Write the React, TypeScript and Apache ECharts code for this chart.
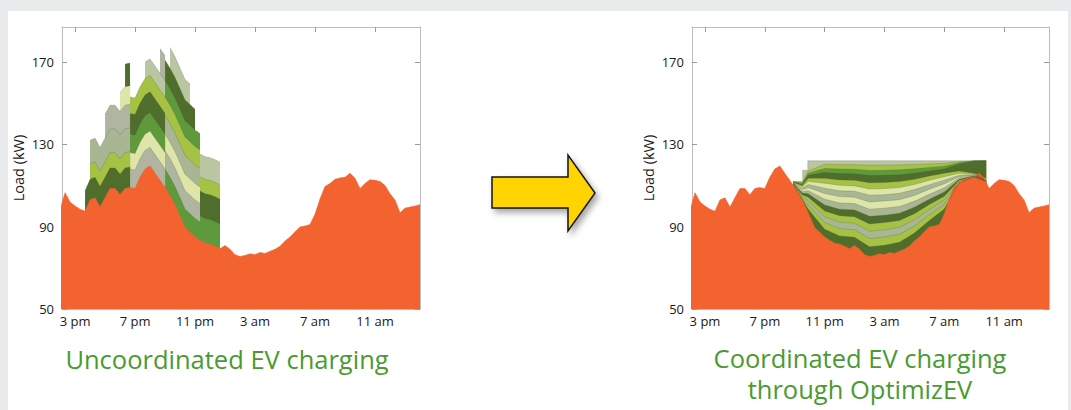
import React, { useEffect, useRef } from "react";
import * as echarts from "echarts";

// ---- time grid: 20-minute steps starting at 2 pm (hour 14) ----
const START_HOUR = 14;
const STEPS_PER_HOUR = 3;

// Base (non-EV) load, kW, every 20 min from 2 pm to 2 pm next day
const baseLoad = [
  98, 106.5, 102, 100, 98.5, 97.5, 103, 104, 99.5, 104,
  108.5, 108.5, 105.5, 108.5, 109, 108.5, 114, 118, 119.5, 116,
  112.5, 109, 105, 100.5, 95, 89.5, 87.3, 85, 83.3, 82,
  81.5, 80.5, 79.3, 80.8, 79, 76.4, 75.5, 76, 76.8, 76.4,
  77.5, 77, 78, 79, 80.5, 83, 85, 87.5, 89.8, 90.3,
  91, 96, 103.5, 109.5, 111, 113, 113.7, 114, 116, 113.5,
  108.5, 111, 112.8, 112.5, 112, 110, 106, 103, 96.8, 99,
  99.5, 100, 100.7,
];

const xTickHours = [15, 19, 23, 27, 31, 35];
const xTickLabels = ["3 pm", "7 pm", "11 pm", "3 am", "7 am", "11 am"];
const yTicks = [50, 90, 130, 170];

const COLORS: Record<string, string> = {
  DG: "#4f6e2c",
  MG: "#5e9a3b",
  YG: "#a6c244",
  PY: "#dde5a8",
  GG: "#a8b693",
  SG: "#bac6a1",
  GR: "#afb5a1",
};
const ORANGE = "#f2632f";

// Uncoordinated charging sessions: start, end, kW, colour (stacked in this order)
const uncoordinatedSessions: [string, string, number, string][] = [
  ["15:40", "18:40", 10, "DG"],
  ["16:00", "18:40", 7.5, "YG"],
  ["16:00", "18:40", 11.5, "GG"],
  ["17:00", "18:40", 11.5, "GR"],
  ["18:00", "18:40", 9, "PY"],
  ["18:20", "18:40", 11, "DG"],
  ["18:40", "21:00", 9, "GR"],
  ["18:40", "21:00", 8, "PY"],
  ["18:40", "21:00", 9, "MG"],
  ["18:40", "21:00", 10, "DG"],
  ["18:40", "21:00", 8, "YG"],
  ["19:40", "21:00", 8, "SG"],
  ["20:40", "21:00", 12, "GR"],
  ["21:00", "23:20", 9, "MG"],
  ["21:00", "23:20", 9, "GR"],
  ["21:00", "23:20", 8, "PY"],
  ["21:00", "23:20", 9, "GG"],
  ["21:00", "23:20", 9, "YG"],
  ["21:00", "23:20", 8, "MG"],
  ["21:00", "23:00", 10, "DG"],
  ["21:20", "22:40", 10, "SG"],
  ["23:20", "00:40", 12, "MG"],
  ["23:20", "00:40", 12, "DG"],
  ["23:20", "00:40", 7, "YG"],
  ["23:20", "00:40", 11, "SG"],
];

// Coordinated charging: upper envelope and stripe boundaries (kW), hours since midnight of day 1
const coordTopHours = [20.87, 21.53, 21.53, 21.87, 21.87, 33.8];
const coordTopValues = [112, 112, 117.4, 117.4, 122, 122];
const coordHours = [20.9, 21.5, 21.9, 23, 24, 25, 26, 27, 28, 29, 30, 31, 32, 33, 33.8];
const coordBounds = [
  [111.9, 111.5, 117, 120.3, 120.2, 120.1, 119.9, 120, 120, 120.2, 120.5, 120.8, 121.5, 122, 122],
  [111.8, 111, 116, 118.3, 118, 117.9, 117.3, 117.4, 117.6, 118.1, 118.8, 119.4, 121, 122, 122],
  [111.7, 110.5, 115, 116.3, 115.8, 115.7, 114.8, 115, 115.2, 116, 117, 118, 120.5, 121.8, 122],
  [111.6, 110, 113.5, 113.5, 112.7, 112.5, 111.3, 111.5, 111.9, 113, 114.6, 116, 117, 116, 113.5],
  [111.5, 109.3, 112, 111.1, 110.1, 109.8, 108.3, 108.5, 109, 110.5, 112.5, 114.3, 116, 115.6, 112.6],
  [111.4, 108.6, 110.5, 108.7, 107.4, 107.2, 105.3, 105.5, 106.2, 108, 110.4, 112.6, 115, 115.3, 112.5],
  [111.3, 107.9, 109, 106.1, 104.6, 104.3, 102, 102.5, 103.1, 105.2, 108.2, 110.8, 114.3, 115, 112.4],
  [111.2, 107.1, 107.5, 103.3, 101.5, 101.2, 98.5, 99, 99.8, 102.3, 105.7, 108.9, 113.7, 114.8, 112.3],
  [111.1, 106.3, 106, 100.5, 98.5, 98.1, 95, 95.5, 96.5, 99.4, 103.3, 106.9, 113, 114.6, 112.2],
  [111, 105.5, 104.3, 97.6, 95.3, 94.8, 91.3, 92, 93, 96.3, 100.8, 104.8, 112.5, 114.4, 112.1],
  [110.9, 104.7, 102.5, 94.8, 92.2, 91.7, 87.8, 88.5, 89.7, 93.3, 98.3, 102.9, 112, 114.3, 112],
  [110.8, 104, 100.5, 92, 89.1, 88.5, 84.2, 85, 86.3, 90.3, 95.9, 100.9, 111.6, 114.2, 112],
  [110.7, 103.4, 98.5, 88.7, 85.5, 84.9, 80.2, 81, 82.4, 86.9, 93, 98.6, 111.3, 114.1, 112],
];
const coordStripeColors = ["SG", "YG", "MG", "DG", "YG", "PY", "GG", "PY", "GG", "DG", "YG", "GG", "YG", "DG"];

const X_MIN = 14.13;
const X_MAX = 38;
const Y_MIN = 50;
const Y_MAX = 187;
const FONT = "'Open Sans', 'Noto Sans', sans-serif";
const OUTLINE = "rgba(70,80,50,0.45)";

const hourOfIndex = (i: number) => START_HOUR + i / STEPS_PER_HOUR;
const clockToIndex = (c: string) => {
  const [h, m] = c.split(":").map(Number);
  let hr = h + m / 60;
  if (hr < START_HOUR) hr += 24;
  return Math.round((hr - START_HOUR) * STEPS_PER_HOUR);
};

function buildOption() {
  const sess = uncoordinatedSessions.map(([s, e, kw, c]) => ({
    s: clockToIndex(s),
    e: clockToIndex(e),
    kw,
    c,
  }));

  const bandSeries = (data: number[][], color: string, axis: number) => ({
    type: "line",
    xAxisIndex: axis,
    yAxisIndex: axis,
    data,
    symbol: "none",
    showSymbol: false,
    silent: true,
    lineStyle: { width: 0.5, color: OUTLINE },
    areaStyle: { color, opacity: 1, origin: "start" },
  });

  const leftBands = sess
    .map((ss, k) => {
      const pts: number[][] = [];
      for (let j = ss.s; j < ss.e; j++) {
        let cum = 0;
        for (let m = 0; m <= k; m++) {
          if (sess[m].s <= j && j < sess[m].e) cum += sess[m].kw;
        }
        pts.push([hourOfIndex(j), baseLoad[j] + cum]);
        pts.push([hourOfIndex(j + 1), baseLoad[j + 1] + cum]);
      }
      return bandSeries(pts, COLORS[ss.c], 0);
    })
    .reverse();

  const baseData = baseLoad.map((v, i) => [hourOfIndex(i), v]);
  const baseSeries = (axis: number) => ({
    type: "line",
    xAxisIndex: axis,
    yAxisIndex: axis,
    data: baseData,
    symbol: "none",
    showSymbol: false,
    silent: true,
    lineStyle: { width: 0.6, color: ORANGE },
    areaStyle: { color: ORANGE, opacity: 1, origin: "start" },
  });

  const rightTop = bandSeries(
    coordTopHours.map((t, n) => [t, coordTopValues[n]]),
    COLORS[coordStripeColors[0]],
    2
  );
  const rightBands = coordBounds.map((vals, k) =>
    bandSeries(
      coordHours.map((t, n) => [t, vals[n]]),
      COLORS[coordStripeColors[k + 1]],
      2
    )
  );

  const tickLabel = (v: number) => {
    const idx = xTickHours.indexOf(v);
    return idx >= 0 ? xTickLabels[idx] : "";
  };

  const axisLineStyle = { show: true, lineStyle: { color: "#bdbdbd", width: 1 } };
  const xBottom = (gridIndex: number) => ({
    type: "value",
    gridIndex,
    min: X_MIN,
    max: X_MAX,
    position: "bottom",
    splitLine: { show: false },
    axisLine: axisLineStyle,
    axisTick: { show: true, inside: true, length: 5, customValues: xTickHours, lineStyle: { color: "#9a9a9a" } },
    axisLabel: {
      customValues: xTickHours,
      formatter: tickLabel,
      color: "#1a1a1a",
      fontSize: 13,
      fontFamily: FONT,
      margin: 5,
    },
  });
  const xTop = (gridIndex: number) => ({
    type: "value",
    gridIndex,
    min: X_MIN,
    max: X_MAX,
    position: "top",
    splitLine: { show: false },
    axisLine: axisLineStyle,
    axisTick: { show: true, inside: true, length: 5, customValues: xTickHours, lineStyle: { color: "#9a9a9a" } },
    axisLabel: { show: false },
  });
  const yLeft = (gridIndex: number) => ({
    type: "value",
    gridIndex,
    min: Y_MIN,
    max: Y_MAX,
    position: "left",
    splitLine: { show: false },
    axisLine: axisLineStyle,
    axisTick: { show: true, inside: true, length: 5, customValues: yTicks, lineStyle: { color: "#9a9a9a" } },
    axisLabel: {
      customValues: yTicks,
      color: "#1a1a1a",
      fontSize: 13,
      fontFamily: FONT,
      margin: 8,
    },
    name: "Load (kW)",
    nameLocation: "middle",
    nameGap: 36,
    nameRotate: 90,
    nameTextStyle: { color: "#1a1a1a", fontSize: 14.5, fontFamily: FONT },
  });
  const yRight = (gridIndex: number) => ({
    type: "value",
    gridIndex,
    min: Y_MIN,
    max: Y_MAX,
    position: "right",
    splitLine: { show: false },
    axisLine: axisLineStyle,
    axisTick: { show: true, inside: true, length: 5, customValues: yTicks, lineStyle: { color: "#9a9a9a" } },
    axisLabel: { show: false },
  });

  const titleStyle = {
    fill: "#4a9a30",
    font: `25.5px ${FONT}`,
    textAlign: "center",
    textVerticalAlign: "middle",
    lineHeight: 31,
  };

  return {
    animation: false,
    grid: [
      { left: 62, top: 27, width: 358, height: 282 },
      { left: 692, top: 27, width: 357, height: 282 },
    ],
    xAxis: [xBottom(0), xTop(0), xBottom(1), xTop(1)],
    yAxis: [yLeft(0), yRight(0), yLeft(1), yRight(1)],
    series: [...leftBands, baseSeries(0), rightTop, ...rightBands, baseSeries(2)],
    graphic: [
      {
        type: "polygon",
        shape: {
          points: [
            [492, 177],
            [568, 177],
            [568, 155],
            [595, 193],
            [568, 231],
            [568, 208],
            [492, 208],
          ],
        },
        style: {
          fill: "#ffd400",
          stroke: "#151515",
          lineWidth: 1.5,
          shadowBlur: 6,
          shadowOffsetX: 3,
          shadowOffsetY: 4,
          shadowColor: "rgba(0,0,0,0.35)",
        },
      },
      { type: "text", x: 227, y: 359, style: { ...titleStyle, text: "Uncoordinated EV charging" } },
      {
        type: "text",
        x: 860,
        y: 373.5,
        style: { ...titleStyle, text: "Coordinated EV charging\nthrough OptimizEV" },
      },
    ],
  };
}

export default function App() {
  const ref = useRef<HTMLDivElement>(null);
  useEffect(() => {
    if (!ref.current) return;
    const chart = echarts.init(ref.current, null, { renderer: "svg" });
    chart.setOption(buildOption() as any);
    return () => chart.dispose();
  }, []);
  return (
    <div
      style={{
        position: "fixed",
        left: 0,
        top: 0,
        width: 1071,
        height: 410,
        background: "#e9eaec",
        overflow: "hidden",
      }}
    >
      <div
        style={{
          position: "absolute",
          left: 8,
          top: 11,
          width: 1060,
          height: 399,
          background: "#ffffff",
        }}
      />
      <div ref={ref} style={{ position: "absolute", left: 0, top: 0, width: 1071, height: 410 }} />
    </div>
  );
}
